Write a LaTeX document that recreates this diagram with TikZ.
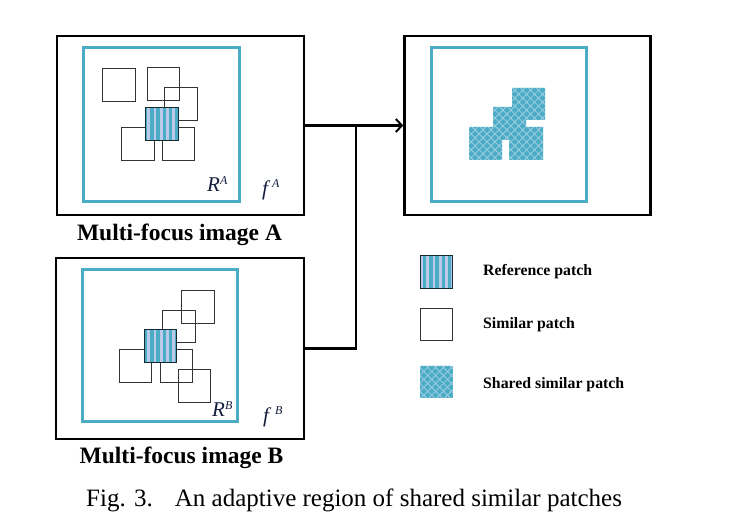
\documentclass[tikz,border=0pt]{standalone}
\usepackage{fontspec}
\setmainfont{Liberation Serif}
\usetikzlibrary{arrows.meta,patterns.meta}
\definecolor{cyanp}{HTML}{4BACC6}
\definecolor{lavp}{HTML}{BCC9E8}
\definecolor{hatchp}{HTML}{9FCFE0}
\definecolor{navyt}{HTML}{141E3C}
\definecolor{simg}{HTML}{333333}
\begin{document}
\begin{tikzpicture}[x=1pt,y=-1pt,
  frame/.style={draw=black,line width=2.5pt,minimum width=#1,inner sep=0pt},
  roi/.style={draw=cyanp,line width=3pt,inner sep=0pt},
  simpatch/.style={draw=simg,line width=1.3pt,minimum width=32.5pt,minimum height=32.5pt,inner sep=0pt},
  refpatch/.style={draw=black!75!cyanp,line width=1.3pt,minimum width=32.5pt,minimum height=32.5pt,inner sep=0pt,
     preaction={fill=cyanp},pattern={Lines[angle=90,distance=6.2pt,line width=2.8pt]},pattern color=lavp},
  sharedfill/.style={fill=cyanp,
     postaction={pattern={Lines[angle=45,distance=5.6pt,line width=0.8pt]},pattern color=hatchp},
     postaction={pattern={Lines[angle=-45,distance=5.6pt,line width=0.8pt]},pattern color=hatchp}},
  conn/.style={line width=2.4pt},
  lbl/.style={font=\fontsize{23.5}{28}\selectfont\bfseries,inner sep=0pt,anchor=base},
  leg/.style={font=\fontsize{15.8}{18}\selectfont\bfseries,inner sep=0pt,anchor=base west},
  math/.style={font=\fontsize{21}{24}\selectfont\itshape,text=navyt,inner sep=0pt,anchor=base west}
]
\useasboundingbox (0,0) rectangle (745,518);

% ---- image A
\node[frame=247pt,minimum height=179pt] (boxA) at (180.5,125.5) {};
\node[roi,minimum width=156pt,minimum height=154pt] (roiA) at (161,125) {};
\node[simpatch] (a1) at (119,85) {};
\node[simpatch] (a2) at (163.5,84) {};
\node[simpatch] (a3) at (181,104) {};
\node[simpatch] (a4) at (138,144) {};
\node[simpatch] (a5) at (178.5,144) {};
\node[refpatch] (aref) at (162,124) {};
\node[math] (RA) at (207,192) {R\raisebox{7pt}{\fontsize{12}{13}\selectfont A}};
\node[math] (fA) at (262,196) {f\hspace{4pt}\raisebox{8pt}{\fontsize{12}{13}\selectfont A}};
\node[lbl] (labA) at (179.5,241) {Multi-focus image A};

% ---- image B
\node[frame=248pt,minimum height=181pt] (boxB) at (180,348.5) {};
\node[roi,minimum width=155pt,minimum height=152pt] (roiB) at (159.5,346) {};
\node[simpatch] (b1) at (135.5,366) {};
\node[simpatch] (b2) at (176.5,366) {};
\node[simpatch] (b3) at (179,326.5) {};
\node[simpatch] (b4) at (198,307) {};
\node[simpatch] (b5) at (194.5,386) {};
\node[refpatch] (bref) at (160.5,346) {};
\node[math] (RB) at (212,417) {R\raisebox{7pt}{\fontsize{12}{13}\selectfont B}};
\node[math] (fB) at (263,423) {f\hspace{6pt}\raisebox{8pt}{\fontsize{12}{13}\selectfont B}};
\node[lbl] (labB) at (181.5,464) {Multi-focus image B};

% ---- fused result
\node[frame=246pt,minimum height=179pt] (boxC) at (527.5,125.5) {};
\node[roi,minimum width=155pt,minimum height=154pt] (roiC) at (508.5,125) {};
\path[sharedfill] (469,127) -- (493,127) -- (493,107) -- (512,107) -- (512,88) -- (545,88)
  -- (545,120) -- (526,120) -- (526,127) -- (543,127) -- (543,160) -- (509,160)
  -- (509,140) -- (502,140) -- (502,160) -- (469,160) -- cycle;

% ---- connectors
\coordinate (j) at (356,125.5);
\draw[conn,-{Straight Barb[length=6pt,width=13pt,line width=2pt]}] (boxA.east) -- (boxC.west);
\draw[conn] (boxB.east) -| (j);

% ---- legend
\node[refpatch] (lref) at (436.5,272) {};
\node[simpatch] (lsim) at (436.5,324.5) {};
\path[sharedfill] (420,366) rectangle (453,398);
\coordinate (lsh) at (436.5,382);
\node[leg] (tref) at (483,275.5) {Reference patch};
\node[leg] (tsim) at (483,329) {Similar patch};
\node[leg] (tsh) at (483,389) {Shared similar patch};

% ---- caption
\node[inner sep=0pt,anchor=base west,font=\fontsize{25}{30}\selectfont] (cap) at (86,507)
  {Fig. 3.\hspace{22pt}An adaptive region of shared similar patches};
\end{tikzpicture}
\end{document}
